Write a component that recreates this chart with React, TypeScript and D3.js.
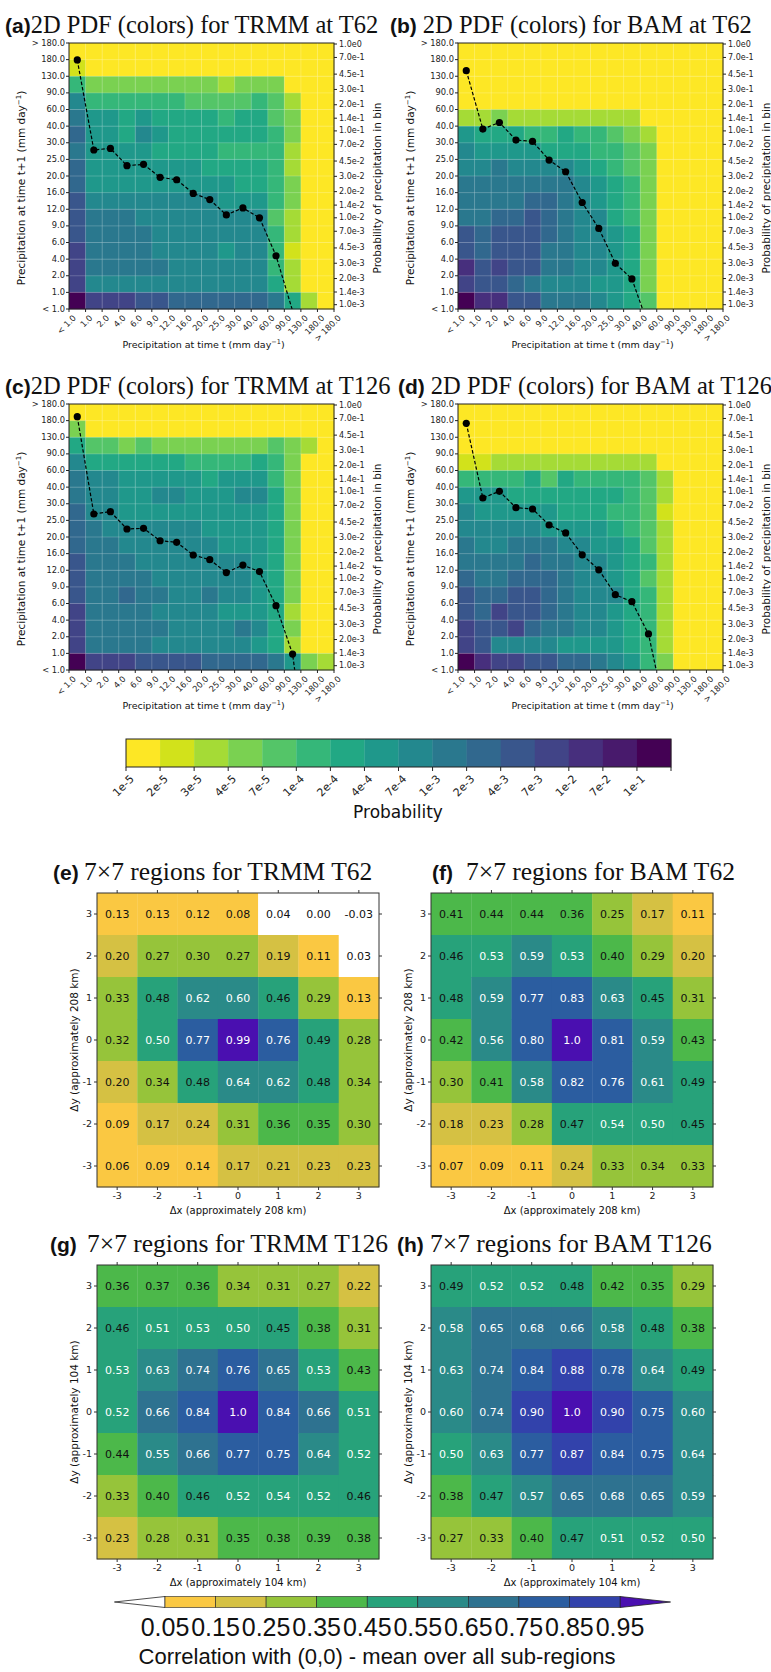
import React from "react";
import * as d3 from "d3";

// precipitation bin edges (mm/day), from bottom/left to top/right
const binLabels = ["< 1.0", "1.0", "2.0", "4.0", "6.0", "9.0", "12.0", "16.0", "20.0", "25.0", "30.0", "40.0", "60.0", "90.0", "130.0", "180.0", "> 180.0"];
// right axis of the PDF panels
const probTicks = [1, 0.7, 0.45, 0.3, 0.2, 0.14, 0.1, 0.07, 0.045, 0.03, 0.02, 0.014, 0.01, 0.007, 0.0045, 0.003, 0.002, 0.0014, 0.001];
// discrete probability colour levels
const cbarLabels = ["1e-5", "2e-5", "3e-5", "4e-5", "7e-5", "1e-4", "2e-4", "4e-4", "7e-4", "1e-3", "2e-3", "4e-3", "7e-3", "1e-2", "7e-2", "1e-1"];

// 2D PDF levels, one hex digit per cell (0 = 1e-5 ... f = highest), rows from "> 180" down to "< 1.0"
const levelsTrmmT62 = [
  "0000000000000000", "1000000000000000", "5333333332333000", "8555555444454200",
  "9776766665664300", "a776876666665300", "9777766665555200", "a777777766665200",
  "a777777777665300", "b888888887775300", "b999888888884200", "b999988888885200",
  "c999988887885100", "c999998888885200", "c888888888886200", "fcccbbaaaaaa9620",
];
const levelsBamT62 = [
  "0000000000000000", "0000000000000000", "0000000000000000", "0000000000000000",
  "2232222222200000", "7666556554320000", "8777766655430000", "8898888765430000",
  "9999999876530000", "9999aa9876530000", "99aaba9886530000", "babbba9887630000",
  "babbb99887630000", "dbcbb99887630000", "cbba988877630000", "fddbb99987640000",
];
const levelsTrmmT126 = [
  "0000000000000000", "3000000000000000", "6443433333334320", "8666666555565300",
  "9887777767775300", "9887788777886300", "a887777777776300", "a988888877776300",
  "a998888887776300", "b999888888876300", "b999988888876300", "b99a998898876300",
  "c999988887776200", "c999998888986300", "c999988888876200", "fcccbbbbaaaa9732",
];
const levelsBamT126 = [
  "0000000000000000", "0000000000000000", "0000000000000000", "1122222222220000",
  "5555646555542000", "7776666666542000", "8777776665541000", "8888877776542000",
  "9889998877642000", "9999a99887652000", "a99aaa9887642000", "baabba9888652000",
  "bacbba9887652000", "cbbca99887652000", "cb88887777652000", "fdccbbaa98753000",
];

// mean probability curves (one value per column, starting at "< 1.0")
const curveTrmmT62 = [0.655, 0.0603, 0.0629, 0.0398, 0.0412, 0.0292, 0.0274, 0.0191, 0.0162, 0.0108, 0.013, 0.01, 0.00366, 0.00085];
const curveBamT62 = [0.493, 0.105, 0.125, 0.0785, 0.0757, 0.0462, 0.0339, 0.015, 0.00755, 0.00299, 0.00198, 0.00057];
const curveTrmmT126 = [0.733, 0.0557, 0.0592, 0.0374, 0.0381, 0.0274, 0.0263, 0.0188, 0.0166, 0.0118, 0.0144, 0.0121, 0.0049, 0.00136, 0.00005];
const curveBamT126 = [0.615, 0.0851, 0.1016, 0.0658, 0.0636, 0.0416, 0.0337, 0.0189, 0.0127, 0.00656, 0.00545, 0.00232, 0.0003];

// 7x7 correlations, rows dy = 3 .. -3, columns dx = -3 .. 3
const offsets = [-3, -2, -1, 0, 1, 2, 3];
const corrTrmmT62 = [
  [0.13, 0.13, 0.12, 0.08, 0.04, 0.0, -0.03],
  [0.2, 0.27, 0.3, 0.27, 0.19, 0.11, 0.03],
  [0.33, 0.48, 0.62, 0.6, 0.46, 0.29, 0.13],
  [0.32, 0.5, 0.77, 0.99, 0.76, 0.49, 0.28],
  [0.2, 0.34, 0.48, 0.64, 0.62, 0.48, 0.34],
  [0.09, 0.17, 0.24, 0.31, 0.36, 0.35, 0.3],
  [0.06, 0.09, 0.14, 0.17, 0.21, 0.23, 0.23],
];
const corrBamT62 = [
  [0.41, 0.44, 0.44, 0.36, 0.25, 0.17, 0.11],
  [0.46, 0.53, 0.59, 0.53, 0.4, 0.29, 0.2],
  [0.48, 0.59, 0.77, 0.83, 0.63, 0.45, 0.31],
  [0.42, 0.56, 0.8, 1.0, 0.81, 0.59, 0.43],
  [0.3, 0.41, 0.58, 0.82, 0.76, 0.61, 0.49],
  [0.18, 0.23, 0.28, 0.47, 0.54, 0.5, 0.45],
  [0.07, 0.09, 0.11, 0.24, 0.33, 0.34, 0.33],
];
const corrTrmmT126 = [
  [0.36, 0.37, 0.36, 0.34, 0.31, 0.27, 0.22],
  [0.46, 0.51, 0.53, 0.5, 0.45, 0.38, 0.31],
  [0.53, 0.63, 0.74, 0.76, 0.65, 0.53, 0.43],
  [0.52, 0.66, 0.84, 1.0, 0.84, 0.66, 0.51],
  [0.44, 0.55, 0.66, 0.77, 0.75, 0.64, 0.52],
  [0.33, 0.4, 0.46, 0.52, 0.54, 0.52, 0.46],
  [0.23, 0.28, 0.31, 0.35, 0.38, 0.39, 0.38],
];
const corrBamT126 = [
  [0.49, 0.52, 0.52, 0.48, 0.42, 0.35, 0.29],
  [0.58, 0.65, 0.68, 0.66, 0.58, 0.48, 0.38],
  [0.63, 0.74, 0.84, 0.88, 0.78, 0.64, 0.49],
  [0.6, 0.74, 0.9, 1.0, 0.9, 0.75, 0.6],
  [0.5, 0.63, 0.77, 0.87, 0.84, 0.75, 0.64],
  [0.38, 0.47, 0.57, 0.65, 0.68, 0.65, 0.59],
  [0.27, 0.33, 0.4, 0.47, 0.51, 0.52, 0.5],
];
const corrBounds = [0.05, 0.15, 0.25, 0.35, 0.45, 0.55, 0.65, 0.75, 0.85, 0.95];
const corrColors = ["#ffffff", "#fac842", "#d5c143", "#96c43a", "#4cb84a", "#27a27a", "#2a8a88", "#2e7290", "#2b5da0", "#3242ab", "#4a0fb0"];

const SANS = "DejaVu Sans";
const SERIF = "Liberation Serif";
const TITLE_SANS = "Liberation Sans";
const PW = 265;
const PH = 266;

const levelColor = (l: number) => d3.interpolateViridis(1 - l / 15);
const fmtProb = (v: number) => v.toExponential(1).replace("+", "");

function PdfPanel({ id, x0, y0, letter, title, gap, titleX, levels, curve, xTitleY }: any) {
  const x = d3.scaleLinear().domain([0, 16]).range([x0, x0 + PW]);
  const y = d3.scaleLinear().domain([0, 16]).range([y0 + PH, y0]);
  const yr = d3.scaleLog().domain([1, 0.001]).range([y0 + 1, y0 + 261.7]);
  const line = d3.line<number>().x((_, i) => x(i + 0.5)).y(d => yr(d));
  const bottom = y0 + PH;

  return (
    <g>
      <text x={titleX} y={y0 - 10} fontSize={24.5} fill="#111">
        <tspan fontFamily={TITLE_SANS} fontWeight="bold" fontSize={21}>({letter})</tspan>
        <tspan fontFamily={SERIF} dx={gap}>{title}</tspan>
      </text>
      <clipPath id={id}>
        <rect x={x0} y={y0} width={PW} height={PH} />
      </clipPath>
      {levels.map((row: string, r: number) =>
        row.split("").map((ch, c) => (
          <rect key={`${r}-${c}`} x={x(c)} y={y(16 - r)} width={x(c + 1) - x(c) + 0.3}
            height={y(15 - r) - y(16 - r) + 0.3} fill={levelColor(parseInt(ch, 16))} />
        ))
      )}
      {d3.range(1, 16).map(i => (
        <g key={"g" + i} stroke="#fff" strokeOpacity={0.35} strokeWidth={0.6}>
          <line x1={x(i)} x2={x(i)} y1={y0} y2={bottom} />
          <line x1={x0} x2={x0 + PW} y1={y(i)} y2={y(i)} />
        </g>
      ))}
      <g clipPath={`url(#${id})`}>
        <path d={line(curve) || ""} fill="none" stroke="#000" strokeWidth={1.2} strokeDasharray="3.5,2" />
        {curve.map((v: number, i: number) =>
          yr(v) <= bottom ? <circle key={i} cx={x(i + 0.5)} cy={yr(v)} r={3.6} fill="#000" /> : null
        )}
      </g>
      <rect x={x0} y={y0} width={PW} height={PH} fill="none" stroke="#222" strokeWidth={1} />
      {binLabels.map((lab, i) => (
        <g key={"l" + i} fontFamily={SANS} fontSize={8.3} fill="#222">
          <line x1={x0 - 3} x2={x0} y1={y(i)} y2={y(i)} stroke="#222" />
          <text x={x0 - 4} y={y(i)} textAnchor="end" dominantBaseline="middle">{lab}</text>
          <line x1={x(i)} x2={x(i)} y1={bottom} y2={bottom + 3} stroke="#222" />
          <text x={x(i) + 3} y={bottom + 5} textAnchor="end" dominantBaseline="hanging"
            transform={`rotate(-45 ${x(i) + 3} ${bottom + 5})`}>{lab}</text>
        </g>
      ))}
      {probTicks.map((v, i) => (
        <g key={"p" + i} fontFamily={SANS} fontSize={8} fill="#222">
          <line x1={x0 + PW} x2={x0 + PW + 3} y1={yr(v)} y2={yr(v)} stroke="#222" />
          <text x={x0 + PW + 5} y={yr(v)} dominantBaseline="middle">{fmtProb(v)}</text>
        </g>
      ))}
      <text fontFamily={SANS} fontSize={10.5} fill="#111" textAnchor="middle"
        transform={`translate(${x0 - 44},${y0 + PH / 2 + 12}) rotate(-90)`}>
        Precipitation at time t+1 (mm day<tspan dy={-4} fontSize={7}>−1</tspan><tspan dy={4}>)</tspan>
      </text>
      <text fontFamily={SANS} fontSize={10.5} fill="#111" textAnchor="middle"
        transform={`translate(${x0 + PW + 47},${y0 + PH / 2 + 12}) rotate(-90)`}>
        Probability of precipitation in bin
      </text>
      <text x={x0 + PW / 2 + 2} y={xTitleY} fontFamily={SANS} fontSize={9.5} fill="#111" textAnchor="middle">
        Precipitation at time t (mm day<tspan dy={-4} fontSize={6.5}>−1</tspan><tspan dy={4}>)</tspan>
      </text>
    </g>
  );
}

const CW = 282;
const CH = 294;

function CorrPanel({ x0, y0, letter, title, letterX, titleX, values, km }: any) {
  const x = d3.scaleBand<number>().domain(offsets).range([x0, x0 + CW]);
  const y = d3.scaleBand<number>().domain([...offsets].reverse()).range([y0, y0 + CH]);
  const color = d3.scaleThreshold<number, string>().domain(corrBounds).range(corrColors);
  const bottom = y0 + CH;
  const bw = x.bandwidth();
  const bh = y.bandwidth();
  return (
    <g>
      <text y={y0 - 13} fill="#111">
        <tspan x={letterX} fontFamily={TITLE_SANS} fontWeight="bold" fontSize={21}>({letter})</tspan>
        <tspan x={titleX} fontFamily={SERIF} fontSize={25.5}>{title}</tspan>
      </text>
      {values.map((row: number[], r: number) =>
        row.map((v, c) => (
          <g key={`${r}-${c}`}>
            <rect x={x(offsets[c])} y={y(offsets[6 - r])} width={bw + 0.3} height={bh + 0.3} fill={color(v)} />
            <text x={(x(offsets[c]) as number) + bw / 2} y={(y(offsets[6 - r]) as number) + bh / 2}
              textAnchor="middle" dominantBaseline="central" fontFamily={SANS} fontSize={11}
              fill={v >= 0.495 ? "#fff" : "#111"}>
              {v === 1 ? "1.0" : v.toFixed(2)}
            </text>
          </g>
        ))
      )}
      <rect x={x0} y={y0} width={CW} height={CH} fill="none" stroke="#333" strokeWidth={1} />
      {offsets.map(o => {
        const cx = (x(o) as number) + bw / 2;
        const cy = (y(o) as number) + bh / 2;
        return (
          <g key={o} fontFamily={SANS} fontSize={9.5} fill="#222" stroke="none">
            <line x1={cx} x2={cx} y1={bottom} y2={bottom + 3} stroke="#333" />
            <line x1={cx} x2={cx} y1={y0} y2={y0 - 3} stroke="#333" />
            <line x1={x0 - 3} x2={x0} y1={cy} y2={cy} stroke="#333" />
            <line x1={x0 + CW} x2={x0 + CW + 3} y1={cy} y2={cy} stroke="#333" />
            <text x={cx} y={bottom + 5} textAnchor="middle" dominantBaseline="hanging">{o}</text>
            <text x={x0 - 5} y={cy} textAnchor="end" dominantBaseline="middle">{o}</text>
          </g>
        );
      })}
      <text x={x0 + CW / 2} y={bottom + 27} fontFamily={SANS} fontSize={10} fill="#111" textAnchor="middle">
        Δx (approximately {km} km)
      </text>
      <text fontFamily={SANS} fontSize={10.5} fill="#111" textAnchor="middle"
        transform={`translate(${x0 - 19},${y0 + CH / 2}) rotate(-90)`}>
        Δy (approximately {km} km)
      </text>
    </g>
  );
}

function ProbColorbar() {
  const x = d3.scaleLinear().domain([0, 16]).range([126, 671]);
  const y0 = 739;
  const h = 28;
  return (
    <g>
      {d3.range(16).map(i => (
        <rect key={i} x={x(i)} y={y0} width={x(i + 1) - x(i) + 0.3} height={h} fill={levelColor(i)} />
      ))}
      <rect x={x(0)} y={y0} width={x(16) - x(0)} height={h} fill="none" stroke="#222" />
      {d3.range(17).map(i => (
        <line key={"t" + i} x1={x(i)} x2={x(i)} y1={y0 + h} y2={y0 + h + 4} stroke="#222" />
      ))}
      {cbarLabels.map((lab, i) => (
        <text key={lab} x={x(i) + 3} y={y0 + h + 7} textAnchor="end" dominantBaseline="hanging"
          fontFamily={SANS} fontSize={11} fill="#222" transform={`rotate(-45 ${x(i) + 3} ${y0 + h + 7})`}>
          {lab}
        </text>
      ))}
      <text x={398} y={818} textAnchor="middle" fontFamily={SANS} fontSize={17} fill="#111">Probability</text>
    </g>
  );
}

function CorrColorbar() {
  const x = d3.scaleLinear().domain([0.05, 0.95]).range([165, 620]);
  const yc = 1602;
  const h = 11;
  const seg = x(0.15) - x(0.05);
  return (
    <g>
      <polygon points={`${x(0.05)},${yc - h / 2} ${x(0.05) - seg},${yc} ${x(0.05)},${yc + h / 2}`} fill={corrColors[0]} stroke="#222" strokeWidth={0.8} />
      <polygon points={`${x(0.95)},${yc - h / 2} ${x(0.95) + seg},${yc} ${x(0.95)},${yc + h / 2}`} fill={corrColors[10]} stroke="#222" strokeWidth={0.8} />
      {corrBounds.slice(0, -1).map((b, i) => (
        <rect key={b} x={x(b)} y={yc - h / 2} width={x(corrBounds[i + 1]) - x(b)} height={h}
          fill={corrColors[i + 1]} stroke="#222" strokeWidth={0.6} />
      ))}
      {corrBounds.map(b => (
        <text key={"l" + b} x={x(b)} y={yc + 34} textAnchor="middle" fontFamily={TITLE_SANS} fontSize={25} fill="#111">
          {b.toFixed(2)}
        </text>
      ))}
      <text x={377} y={yc + 62} textAnchor="middle" fontFamily={TITLE_SANS} fontSize={22} fill="#111">
        Correlation with (0,0) - mean over all sub-regions
      </text>
    </g>
  );
}

export default function App() {
  return (
    <svg width={771} height={1672} viewBox="0 0 771 1672"
      style={{ position: "absolute", left: 0, top: 0, background: "#fff", display: "block" }}>
      <rect width={771} height={1672} fill="#fff" />
      <PdfPanel id="ca" x0={69} y0={43} letter="a" title="2D PDF (colors) for TRMM at T62" gap={0} titleX={5}
        levels={levelsTrmmT62} curve={curveTrmmT62} xTitleY={348} />
      <PdfPanel id="cb" x0={458} y0={43} letter="b" title="2D PDF (colors) for BAM at T62" gap={6} titleX={390}
        levels={levelsBamT62} curve={curveBamT62} xTitleY={348} />
      <PdfPanel id="cc" x0={69} y0={404} letter="c" title="2D PDF (colors) for TRMM at T126" gap={0} titleX={5}
        levels={levelsTrmmT126} curve={curveTrmmT126} xTitleY={709} />
      <PdfPanel id="cd" x0={458} y0={404} letter="d" title="2D PDF (colors) for BAM at T126" gap={6} titleX={398}
        levels={levelsBamT126} curve={curveBamT126} xTitleY={709} />
      <ProbColorbar />
      <CorrPanel x0={97} y0={893} letter="e" title="7×7 regions for TRMM T62" letterX={53} titleX={84}
        values={corrTrmmT62} km={208} />
      <CorrPanel x0={431} y0={893} letter="f" title="7×7 regions for BAM T62" letterX={432} titleX={466}
        values={corrBamT62} km={208} />
      <CorrPanel x0={97} y0={1265} letter="g" title="7×7 regions for TRMM T126" letterX={50} titleX={87}
        values={corrTrmmT126} km={104} />
      <CorrPanel x0={431} y0={1265} letter="h" title="7×7 regions for BAM T126" letterX={397} titleX={430}
        values={corrBamT126} km={104} />
      <CorrColorbar />
    </svg>
  );
}
